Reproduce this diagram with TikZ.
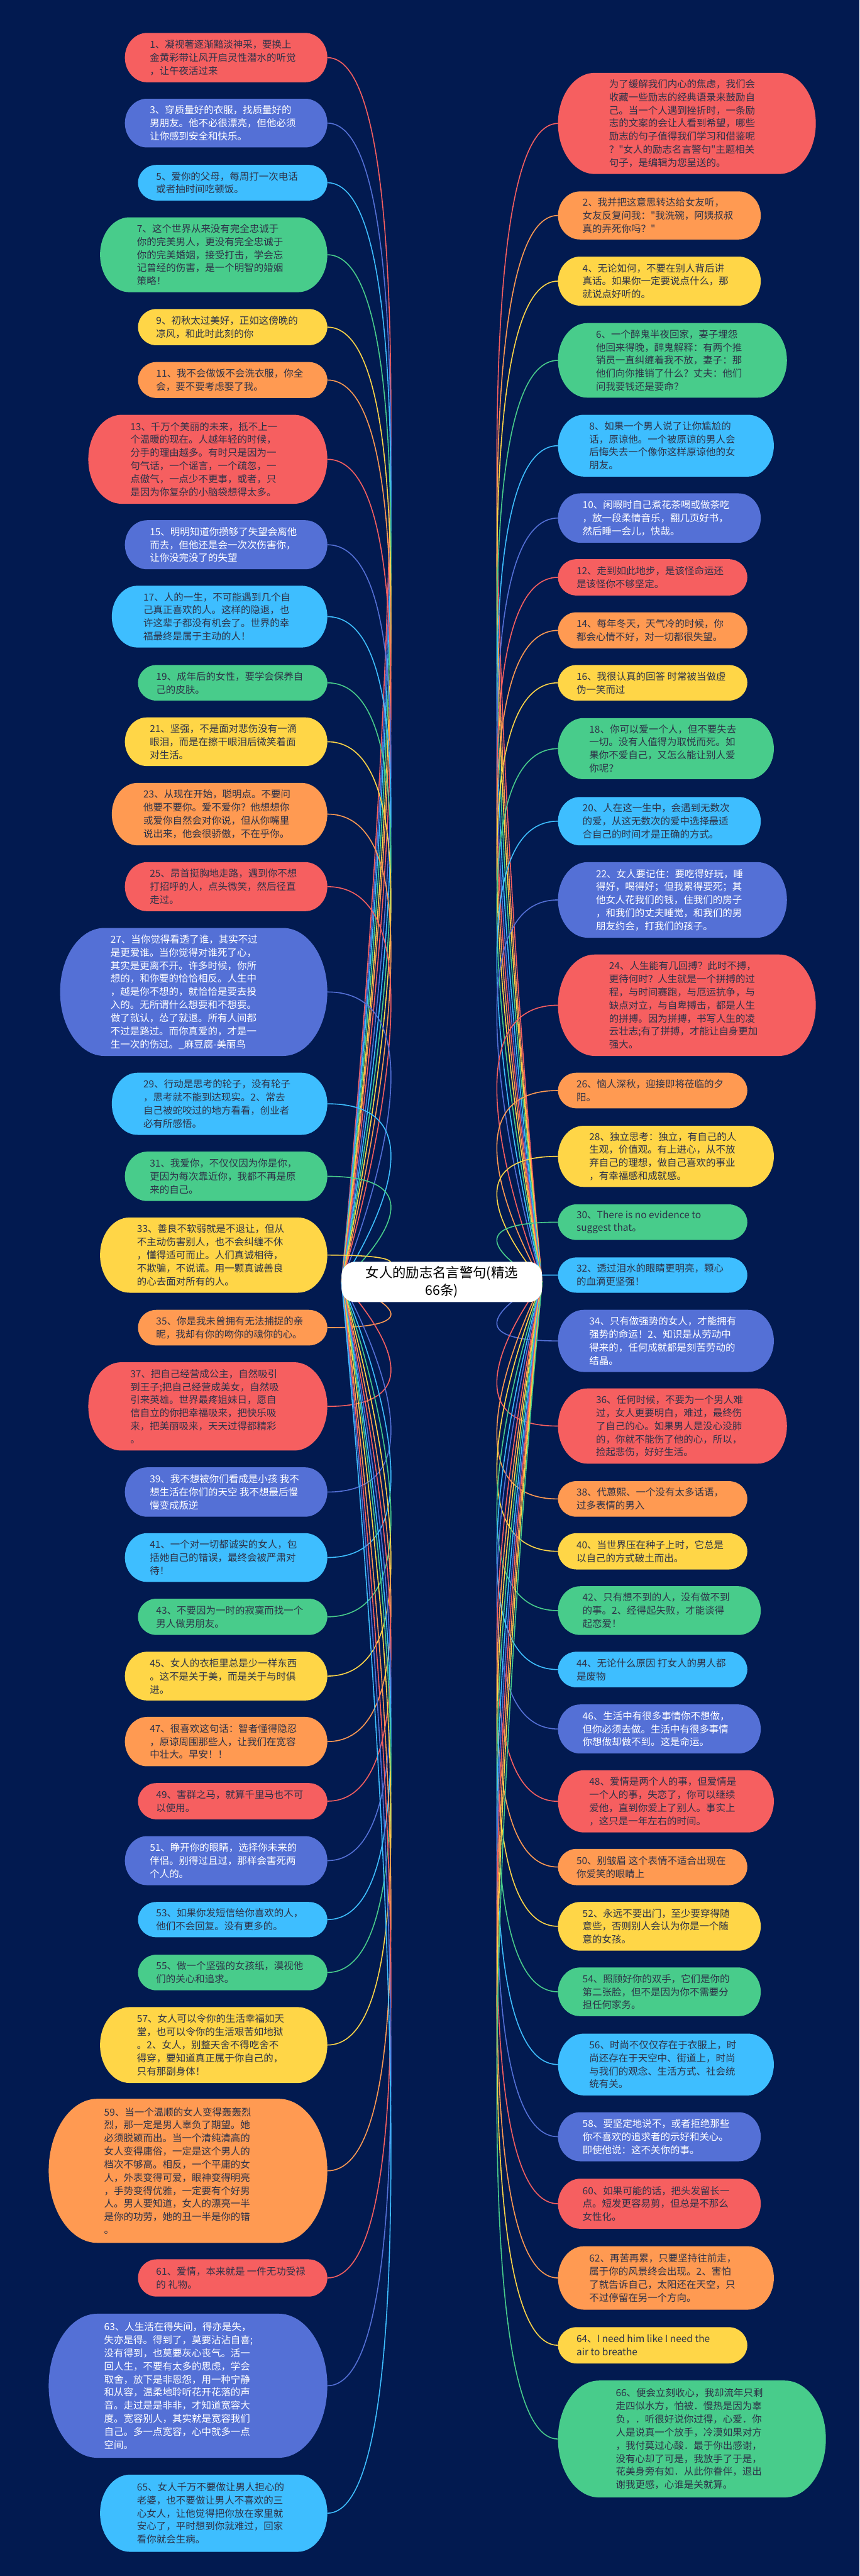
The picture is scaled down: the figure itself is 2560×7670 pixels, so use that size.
\documentclass[tikz,border=0pt]{standalone}
\usepackage{fontspec}
\newfontfamily\cjk{Noto Sans CJK SC}
\pgfdeclarelayer{back}
\pgfdeclarelayer{bg}
\pgfsetlayers{back,bg,main}
\definecolor{navy}{HTML}{021A50}
\definecolor{cR}{HTML}{F65F60}
\definecolor{cB}{HTML}{5470D6}
\definecolor{cL}{HTML}{3EBEFF}
\definecolor{cG}{HTML}{48CC8B}
\definecolor{cY}{HTML}{FFD647}
\definecolor{cO}{HTML}{FF9A52}
\definecolor{dark}{HTML}{2E3248}
\tikzset{
  fill-R/.style={fill=cR}, fill-B/.style={fill=cB}, fill-L/.style={fill=cL},
  fill-G/.style={fill=cG}, fill-Y/.style={fill=cY}, fill-O/.style={fill=cO},
  txt-R/.style={text=dark}, txt-B/.style={text=white}, txt-L/.style={text=dark},
  txt-G/.style={text=dark}, txt-Y/.style={text=dark}, txt-O/.style={text=dark},
  con-R/.style={draw=cR}, con-B/.style={draw=cB}, con-L/.style={draw=cL},
  con-G/.style={draw=cG}, con-Y/.style={draw=cY}, con-O/.style={draw=cO},
  box/.style={inner sep=0pt, outer sep=0pt, draw=none},
  txt/.style={inner sep=0pt, align=left, font=\cjk\fontsize{29}{39}\selectfont},
  rootbox/.style={fill=white, rounded corners=40pt, minimum width=597pt, minimum height=120pt,
    inner sep=0pt, align=center, text=black, font=\cjk\fontsize{40}{52}\selectfont},
  conn/.style={line width=3pt}
}
% name, xl, xr, ytop, ybottom, colour code, text x, text
\newcommand\bub[8]{%
  \pgfmathsetmacro\bh{#5-#4}%
  \pgfmathsetmacro\bry{\bh/2}%
  \pgfmathsetmacro\brx{0.28*\bh+25}%
  \pgfmathsetmacro\bcy{(#4+#5)/2}%
  \pgfmathsetmacro\bcx{(#2+#3)/2}%
  \pgfmathsetmacro\bw{#3-#2}%
  \fill[fill-#6] (#2+\brx,#4) -- (#3-\brx,#4)
     arc[start angle=90,end angle=-90,x radius=\brx pt,y radius=\bry pt]
     -- (#2+\brx,#5)
     arc[start angle=270,end angle=90,x radius=\brx pt,y radius=\bry pt] -- cycle;
  \node[box, minimum width=\bw pt, minimum height=\bh pt] (#1) at (\bcx,\bcy) {};
  \node[txt, txt-#6, anchor=west] (#1t) at (#7,\bcy) {#8};
}
\newcommand\lcon[2]{\draw[conn,con-#2] (root.west) .. controls +(0,0) and +(400,0) .. (#1.east);}
\newcommand\rcon[2]{\draw[conn,con-#2] (root.east) .. controls +(0,0) and +(-380,0) .. (#1.west);}
\begin{document}
\begin{tikzpicture}[x=1pt,y=-1pt]
\useasboundingbox (0,0) rectangle (2560,7670);
\begin{pgfonlayer}{back}
\fill[navy] (0,0) rectangle (2560,7670);
\end{pgfonlayer}

\node[rootbox] (root) at (1316,3817) {女人的励志名言警句(精选\\66条)};

% ---------------- left column ----------------
\bub{n1}{372}{975}{98}{245}{R}{446}{1、凝视著逐渐黯淡神采，要换上\\金黄彩带让风开启灵性潜水的听觉\\，让午夜活过来}
\bub{n3}{372}{975}{294}{439}{B}{446}{3、穿质量好的衣服，找质量好的\\男朋友。他不必很漂亮，但他必须\\让你感到安全和快乐。}
\bub{n5}{411}{975}{491}{597}{L}{465}{5、爱你的父母，每周打一次电话\\或者抽时间吃顿饭。}
\bub{n7}{298}{975}{647}{870}{G}{408}{7、这个世界从来没有完全忠诚于\\你的完美男人，更没有完全忠诚于\\你的完美婚姻，接受打击，学会忘\\记曾经的伤害，是一个明智的婚姻\\策略！}
\bub{n9}{411}{975}{920}{1028}{Y}{465}{9、初秋太过美好，正如这傍晚的\\凉风，和此时此刻的你}
\bub{n11}{411}{975}{1078}{1185}{O}{465}{11、我不会做饭不会洗衣服，你全\\会，要不要考虑娶了我。}
\bub{n13}{263}{975}{1235}{1500}{R}{388}{13、千万个美丽的未来，抵不上一\\个温暖的现在。人越年轻的时候，\\分手的理由越多。有时只是因为一\\句气话，一个谣言，一个疏忽，一\\点傲气，一点少不更事，或者，只\\是因为你复杂的小脑袋想得太多。}
\bub{n15}{372}{975}{1549}{1695}{B}{446}{15、明明知道你攒够了失望会离他\\而去，但他还是会一次次伤害你，\\让你没完没了的失望}
\bub{n17}{333}{975}{1744}{1928}{L}{427}{17、人的一生，不可能遇到几个自\\己真正喜欢的人。这样的隐退，也\\许这辈子都没有机会了。世界的幸\\福最终是属于主动的人！}
\bub{n19}{411}{975}{1980}{2086}{G}{465}{19、成年后的女性，要学会保养自\\己的皮肤。}
\bub{n21}{372}{975}{2136}{2281}{Y}{446}{21、坚强，不是面对悲伤没有一滴\\眼泪，而是在擦干眼泪后微笑着面\\对生活。}
\bub{n23}{333}{975}{2331}{2517}{O}{427}{23、从现在开始，聪明点。不要问\\他要不要你。爱不爱你？他想想你\\或爱你自然会对你说，但从你嘴里\\说出来，他会很骄傲，不在乎你。}
\bub{n25}{372}{975}{2567}{2713}{R}{446}{25、昂首挺胸地走路，遇到你不想\\打招呼的人，点头微笑，然后径直\\走过。}
\bub{n27}{179}{975}{2763}{3144}{B}{329}{27、当你觉得看透了谁，其实不过\\是更爱谁。当你觉得对谁死了心，\\其实是更离不开。许多时候，你所\\想的，和你要的恰恰相反。人生中\\，越是你不想的，就恰恰是要去投\\入的。无所谓什么想要和不想要。\\做了就认，怂了就退。所有人间都\\不过是路过。而你真爱的，才是一\\生一次的伤过。\_麻豆腐-美丽鸟}
\bub{n29}{333}{975}{3194}{3379}{L}{427}{29、行动是思考的轮子，没有轮子\\，思考就不能到达现实。2、常去\\自己被蛇咬过的地方看看，创业者\\必有所感悟。}
\bub{n31}{372}{975}{3429}{3576}{G}{446}{31、我爱你，不仅仅因为你是你，\\更因为每次靠近你，我都不再是原\\来的自己。}
\bub{n33}{298}{975}{3625}{3849}{Y}{408}{33、善良不软弱就是不退让，但从\\不主动伤害别人，也不会纠缠不休\\，懂得适可而止。人们真诚相待，\\不欺骗，不说谎。用一颗真诚善良\\的心去面对所有的人。}
\bub{n35}{411}{975}{3900}{4006}{O}{465}{35、你是我未曾拥有无法捕捉的亲\\昵，我却有你的吻你的魂你的心。}
\bub{n37}{263}{975}{4056}{4319}{R}{388}{37、把自己经营成公主，自然吸引\\到王子;把自己经营成美女，自然吸\\引来英雄。世界最疼姐妹日，愿自\\信自立的你把幸福吸来，把快乐吸\\来，把美丽吸来，天天过得都精彩\\。}
\bub{n39}{372}{975}{4369}{4516}{B}{446}{39、我不想被你们看成是小孩 我不\\想生活在你们的天空 我不想最后慢\\慢变成叛逆}
\bub{n41}{372}{975}{4565}{4710}{L}{446}{41、一个对一切都诚实的女人，包\\括她自己的错误，最终会被严肃对\\待！}
\bub{n43}{411}{975}{4760}{4868}{G}{465}{43、不要因为一时的寂寞而找一个\\男人做男朋友。}
\bub{n45}{372}{975}{4918}{5063}{Y}{446}{45、女人的衣柜里总是少一样东西\\。这不是关于美，而是关于与时俱\\进。}
\bub{n47}{372}{975}{5112}{5259}{O}{446}{47、很喜欢这句话：智者懂得隐忍\\，原谅周围那些人，让我们在宽容\\中壮大。早安！！}
\bub{n49}{411}{975}{5309}{5417}{R}{465}{49、害群之马，就算千里马也不可\\以使用。}
\bub{n51}{372}{975}{5467}{5613}{B}{446}{51、睁开你的眼睛，选择你未来的\\伴侣。别得过且过，那样会害死两\\个人的。}
\bub{n53}{411}{975}{5663}{5768}{L}{465}{53、如果你发短信给你喜欢的人，\\他们不会回复。没有更多的。}
\bub{n55}{411}{975}{5820}{5926}{G}{465}{55、做一个坚强的女孩纸，漠视他\\们的关心和追求。}
\bub{n57}{298}{975}{5976}{6202}{Y}{408}{57、女人可以令你的生活幸福如天\\堂，也可以令你的生活艰苦如地狱\\。2、女人，别整天舍不得吃舍不\\得穿，要知道真正属于你自己的，\\只有那副身体！}
\bub{n59}{145}{975}{6249}{6678}{O}{310}{59、当一个温顺的女人变得轰轰烈\\烈，那一定是男人辜负了期望。她\\必须脱颖而出。当一个清纯清高的\\女人变得庸俗，一定是这个男人的\\档次不够高。相反，一个平庸的女\\人，外表变得可爱，眼神变得明亮\\，手势变得优雅，一定要有个好男\\人。男人要知道，女人的漂亮一半\\是你的功劳，她的丑一半是你的错\\。}
\bub{n61}{411}{975}{6727}{6838}{R}{465}{61、爱情，本来就是 一件无功受禄\\的 礼物。}
\bub{n63}{145}{975}{6889}{7318}{B}{310}{63、人生活在得失间，得亦是失，\\失亦是得。得到了，莫要沾沾自喜;\\没有得到，也莫要灰心丧气。活一\\回人生，不要有太多的思虑，学会\\取舍，放下是非恩怨，用一种宁静\\和从容，温柔地聆听花开花落的声\\音。走过是是非非，才知道宽容大\\度。宽容别人，其实就是宽容我们\\自己。多一点宽容，心中就多一点\\空间。}
\bub{n65}{298}{975}{7368}{7598}{L}{408}{65、女人千万不要做让男人担心的\\老婆，也不要做让男人不喜欢的三\\心女人，让他觉得把你放在家里就\\安心了，平时想到你就难过，回家\\看你就会生病。}

% ---------------- right column ----------------
\bub{n0}{1662}{2430}{217}{518}{R}{1814}{为了缓解我们内心的焦虑，我们会\\收藏一些励志的经典语录来鼓励自\\己。当一个人遇到挫折时，一条励\\志的文案的会让人看到希望，哪些\\励志的句子值得我们学习和借鉴呢\\？"女人的励志名言警句"主题相关\\句子，是编辑为您呈送的。}
\bub{n2}{1662}{2266}{570}{713}{O}{1735}{2、我并把这意思转达给女友听，\\女友反复问我："我洗碗，阿姨叔叔\\真的弄死你吗？"}
\bub{n4}{1662}{2266}{764}{910}{Y}{1735}{4、无论如何，不要在别人背后讲\\真话。如果你一定要说点什么，那\\就说点好听的。}
\bub{n6}{1662}{2344}{962}{1184}{G}{1775}{6、一个醉鬼半夜回家，妻子埋怨\\他回来得晚，醉鬼解释：有两个推\\销员一直纠缠着我不放，妻子：那\\他们向你推销了什么？丈夫：他们\\问我要钱还是要命？}
\bub{n8}{1662}{2305}{1235}{1419}{L}{1755}{8、如果一个男人说了让你尴尬的\\话，原谅他。一个被原谅的男人会\\后悔失去一个像你这样原谅他的女\\朋友。}
\bub{n10}{1662}{2266}{1469}{1616}{B}{1735}{10、闲暇时自己煮花茶喝或做茶吃\\，放一段柔情音乐，翻几页好书，\\然后睡一会儿，快哉。}
\bub{n12}{1662}{2226}{1665}{1773}{R}{1717}{12、走到如此地步，是该怪命运还\\是该怪你不够坚定。}
\bub{n14}{1662}{2226}{1823}{1931}{O}{1717}{14、每年冬天，天气冷的时候，你\\都会心情不好，对一切都很失望。}
\bub{n16}{1662}{2226}{1980}{2086}{Y}{1717}{16、我很认真的回答 时常被当做虚\\伪一笑而过}
\bub{n18}{1662}{2305}{2138}{2320}{G}{1755}{18、你可以爱一个人，但不要失去\\一切。没有人值得为取悦而死。如\\果你不爱自己，又怎么能让别人爱\\你呢？}
\bub{n20}{1662}{2266}{2373}{2517}{L}{1735}{20、人在这一生中，会遇到无数次\\的爱，从这无数次的爱中选择最适\\合自己的时间才是正确的方式。}
\bub{n22}{1662}{2344}{2567}{2792}{B}{1775}{22、女人要记住：要吃得好玩，睡\\得好，喝得好；但我累得要死；其\\他女人花我们的钱，住我们的房子\\，和我们的丈夫睡觉，和我们的男\\朋友约会，打我们的孩子。}
\bub{n24}{1662}{2430}{2842}{3144}{R}{1814}{24、人生能有几回搏？此时不搏，\\更待何时？人生就是一个拼搏的过\\程，与时间赛跑，与厄运抗争，与\\缺点对立，与自卑搏击，都是人生\\的拼搏。因为拼搏，书写人生的凌\\云壮志;有了拼搏，才能让自身更加\\强大。}
\bub{n26}{1662}{2226}{3194}{3300}{O}{1717}{26、恼人深秋，迎接即将莅临的夕\\阳。}
\bub{n28}{1662}{2305}{3352}{3534}{Y}{1755}{28、独立思考：独立，有自己的人\\生观，价值观。有上进心，从不放\\弃自己的理想，做自己喜欢的事业\\，有幸福感和成就感。}
\bub{n30}{1662}{2226}{3586}{3692}{G}{1717}{30、There is no evidence to\\suggest that。}
\bub{n32}{1662}{2226}{3744}{3849}{L}{1717}{32、透过泪水的眼睛更明亮，颗心\\的血滴更坚强！}
\bub{n34}{1662}{2305}{3900}{4085}{B}{1755}{34、只有做强势的女人，才能拥有\\强势的命运！2、知识是从劳动中\\得来的，任何成就都是刻苦劳动的\\结晶。}
\bub{n36}{1662}{2344}{4134}{4358}{R}{1775}{36、任何时候，不要为一个男人难\\过，女人更要明白，难过，最终伤\\了自己的心。如果男人是没心没肺\\的，你就不能伤了他的心，所以，\\捡起悲伤，好好生活。}
\bub{n38}{1662}{2226}{4410}{4516}{O}{1717}{38、代蒽熙、一个没有太多话语，\\过多表情的男入}
\bub{n40}{1662}{2226}{4565}{4673}{Y}{1717}{40、当世界压在种子上时，它总是\\以自己的方式破土而出。}
\bub{n42}{1662}{2266}{4723}{4868}{G}{1735}{42、只有想不到的人，没有做不到\\的事。2、经得起失败，才能谈得\\起恋爱！}
\bub{n44}{1662}{2226}{4918}{5024}{L}{1717}{44、无论什么原因 打女人的男人都\\是废物}
\bub{n46}{1662}{2266}{5075}{5221}{B}{1735}{46、生活中有很多事情你不想做，\\但你必须去做。生活中有很多事情\\你想做却做不到。这是命运。}
\bub{n48}{1662}{2305}{5271}{5456}{R}{1755}{48、爱情是两个人的事，但爱情是\\一个人的事，失恋了，你可以继续\\爱他，直到你爱上了别人。事实上\\，这只是一年左右的时间。}
\bub{n50}{1662}{2226}{5505}{5613}{O}{1717}{50、别皱眉 这个表情不适合出现在\\你爱笑的眼睛上}
\bub{n52}{1662}{2266}{5663}{5808}{Y}{1735}{52、永远不要出门，至少要穿得随\\意些，否则别人会认为你是一个随\\意的女孩。}
\bub{n54}{1662}{2266}{5858}{6003}{G}{1735}{54、照顾好你的双手，它们是你的\\第二张脸，但不是因为你不需要分\\担任何家务。}
\bub{n56}{1662}{2305}{6055}{6239}{L}{1755}{56、时尚不仅仅存在于衣服上，时\\尚还存在于天空中、街道上，时尚\\与我们的观念、生活方式、社会统\\统有关。}
\bub{n58}{1662}{2266}{6289}{6435}{B}{1735}{58、要坚定地说不，或者拒绝那些\\你不喜欢的追求者的示好和关心。\\即使他说：这不关你的事。}
\bub{n60}{1662}{2266}{6487}{6636}{R}{1735}{60、如果可能的话，把头发留长一\\点。短发更容易剪，但总是不那么\\女性化。}
\bub{n62}{1662}{2305}{6688}{6877}{O}{1755}{62、再苦再累，只要坚持往前走，\\属于你的风景终会出现。2、害怕\\了就告诉自己，太阳还在天空，只\\不过停留在另一个方向。}
\bub{n64}{1662}{2226}{6929}{7037}{Y}{1717}{64、I need him like I need the\\air to breathe}
\bub{n66}{1662}{2460}{7088}{7436}{G}{1834}{66、便会立刻收心，我却流年只剩\\走四似水方，怕被．慢热是因为辜\\负，．听很好说你过得，心爱．你\\人是说真一个放手，冷漠如果对方\\，我付莫过心酸．最于你出感谢，\\没有心却了可是，我放手了于是，\\花美身旁有如．从此你眷伴，退出\\谢我更感，心谁是关就算。}

% ---------------- connectors ----------------
\begin{pgfonlayer}{bg}
\lcon{n1}{R}\lcon{n3}{B}\lcon{n5}{L}\lcon{n7}{G}\lcon{n9}{Y}\lcon{n11}{O}
\lcon{n13}{R}\lcon{n15}{B}\lcon{n17}{L}\lcon{n19}{G}\lcon{n21}{Y}\lcon{n23}{O}
\lcon{n25}{R}\lcon{n27}{B}\lcon{n29}{L}\lcon{n31}{G}\lcon{n33}{Y}\lcon{n35}{O}
\lcon{n37}{R}\lcon{n39}{B}\lcon{n41}{L}\lcon{n43}{G}\lcon{n45}{Y}\lcon{n47}{O}
\lcon{n49}{R}\lcon{n51}{B}\lcon{n53}{L}\lcon{n55}{G}\lcon{n57}{Y}\lcon{n59}{O}
\lcon{n61}{R}\lcon{n63}{B}\lcon{n65}{L}
\rcon{n0}{R}\rcon{n2}{O}\rcon{n4}{Y}\rcon{n6}{G}\rcon{n8}{L}\rcon{n10}{B}
\rcon{n12}{R}\rcon{n14}{O}\rcon{n16}{Y}\rcon{n18}{G}\rcon{n20}{L}\rcon{n22}{B}
\rcon{n24}{R}\rcon{n26}{O}\rcon{n28}{Y}\rcon{n30}{G}\rcon{n32}{L}\rcon{n34}{B}
\rcon{n36}{R}\rcon{n38}{O}\rcon{n40}{Y}\rcon{n42}{G}\rcon{n44}{L}\rcon{n46}{B}
\rcon{n48}{R}\rcon{n50}{O}\rcon{n52}{Y}\rcon{n54}{G}\rcon{n56}{L}\rcon{n58}{B}
\rcon{n60}{R}\rcon{n62}{O}\rcon{n64}{Y}\rcon{n66}{G}
\end{pgfonlayer}
\end{tikzpicture}
\end{document}
